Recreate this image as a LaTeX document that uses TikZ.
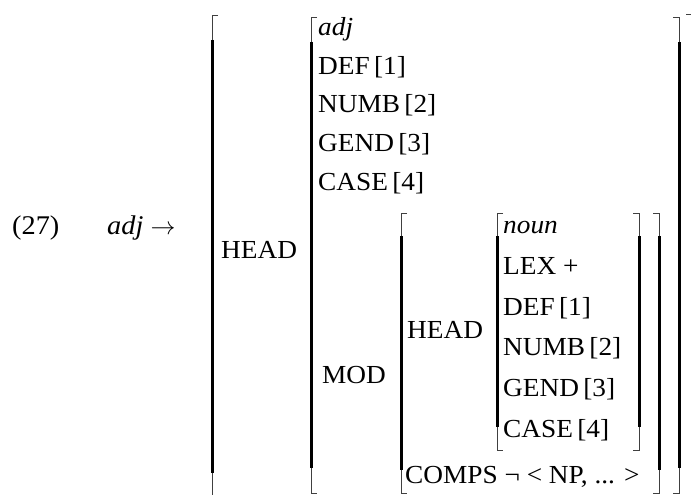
\documentclass[tikz,border=0pt]{standalone}
\usepackage{fontspec}
\setmainfont{Liberation Serif}[FakeStretch=1.05]
\usepackage{tikz}
\usetikzlibrary{calc}

\begin{document}
\begin{tikzpicture}[x=1pt,y=-1pt,font=\fontsize{26}{30}\selectfont,
    lbl/.style={anchor=base west,inner sep=0pt},
    brk/.style={line width=0.8pt,black!75},
    stem/.style={line width=3pt}]
              \useasboundingbox (0,0) rectangle (691,495);
              % left hand side
              \node[lbl,font=\fontsize{27}{30}\selectfont](n27)at(12,234){(27)};
              \node[lbl,font=\fontsize{27}{30}\selectfont](lhs)at(107,234){\textit{adj} $\rightarrow$};
              % outer brackets
              \draw[brk] (218,15) -- (212,15) -- (212,498) -- (218,498);
              \draw[stem] (212,40) -- (212,473);
              \draw[brk] (686,14) -- (692,14) -- (692,498) -- (686,498);
              \node[lbl](head)at(221,258){HEAD};
              % value of HEAD
              \draw[brk] (317,17) -- (311,17) -- (311,493) -- (317,493);
              \draw[stem] (311,42) -- (311,468);
              \draw[brk] (673,17) -- (679,17) -- (679,493) -- (673,493);
              \draw[stem] (679,42) -- (679,468);
              \node[lbl](hadj)at(318,36){\textit{adj}};
              \node[lbl](hdef)at(318,74.5){DEF\,[1]};
              \node[lbl](hnumb)at(318,113){NUMB\,[2]};
              \node[lbl](hgend)at(318,151.5){GEND\,[3]};
              \node[lbl](hcase)at(318,190){CASE\,[4]};
              \node[lbl](mod)at(322,383){MOD};
              % value of MOD
              \draw[brk] (407,213) -- (401,213) -- (401,493) -- (407,493);
              \draw[stem] (401,236) -- (401,470);
              \draw[brk] (653,213) -- (659,213) -- (659,493) -- (653,493);
              \draw[stem] (659,236) -- (659,470);
              \node[lbl](mhead)at(407,338){HEAD};
              \node[lbl](comps)at(405,483){COMPS ¬ < NP, ... >};
              % value of the inner HEAD
              \draw[brk] (503,213) -- (497,213) -- (497,450) -- (503,450);
              \draw[stem] (497,236) -- (497,427);
              \draw[brk] (633,213) -- (639,213) -- (639,450) -- (633,450);
              \draw[stem] (639,236) -- (639,427);
              \node[lbl](nnoun)at(503,233){\textit{noun}};
              \node[lbl](nlex)at(503,274){LEX +};
              \node[lbl](ndef)at(503,315){DEF\,[1]};
              \node[lbl](nnumb)at(503,355){NUMB\,[2]};
              \node[lbl](ngend)at(503,396){GEND\,[3]};
              \node[lbl](ncase)at(503,437){CASE\,[4]};
            \end{tikzpicture}
\end{document}
